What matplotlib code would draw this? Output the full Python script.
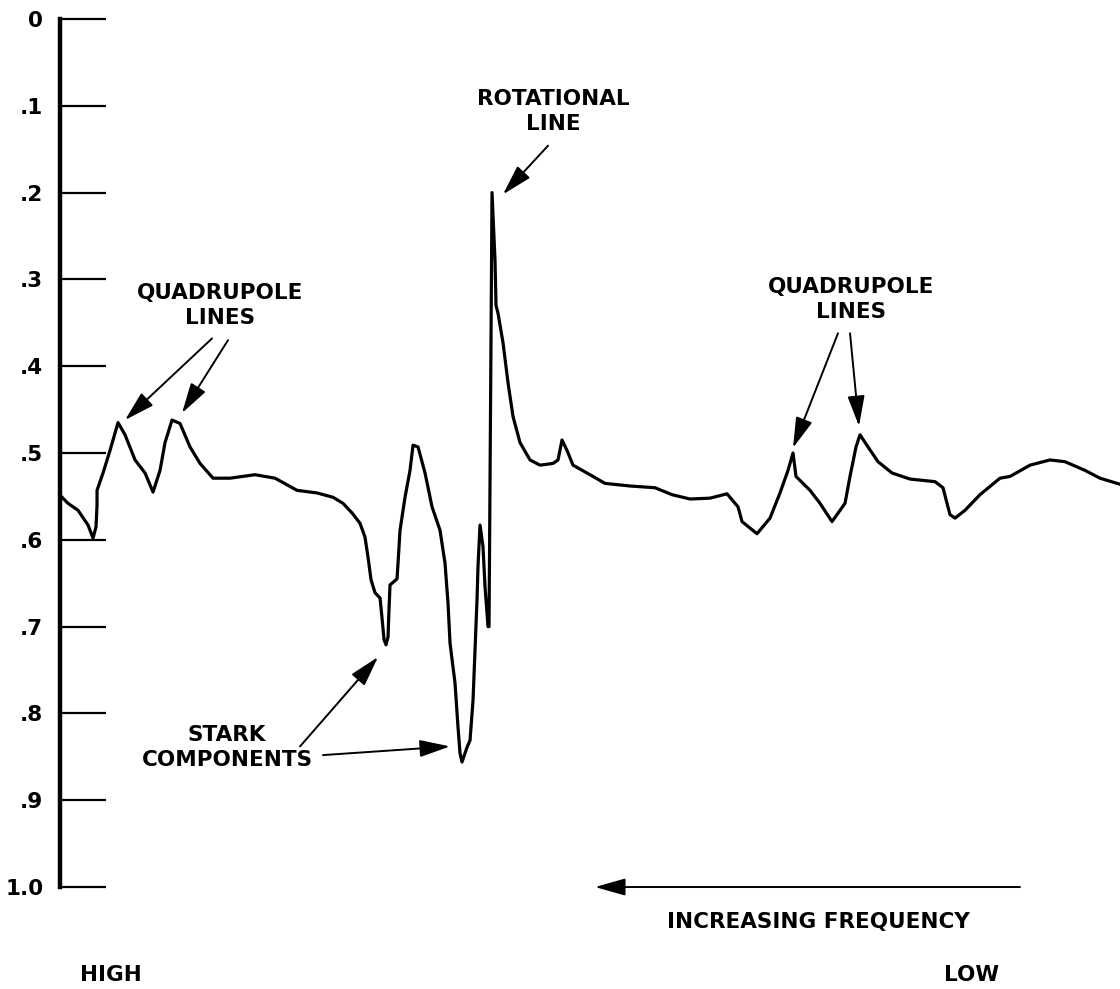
import numpy as np
import matplotlib
matplotlib.use("Agg")
import matplotlib.pyplot as plt

# trace position (arbitrary frequency units, high frequency on the left)
pos = [2, 8, 18, 28, 33, 36, 37, 37, 43, 50, 58, 65, 75, 85, 93, 100, 105, 112,
       120, 130, 140, 153, 170, 195, 215, 237, 257, 273, 283, 292, 300, 305, 308,
       311, 315, 320, 322, 324, 326, 328, 329, 330, 337, 338, 340, 345, 350, 353,
       358, 365, 372, 380, 385, 388, 390, 395, 398, 400, 402, 407, 410, 413, 415,
       417, 418, 420, 423, 425, 428, 429, 432, 435, 436, 438, 443, 448, 453, 460,
       470, 480, 493, 498, 502, 507, 513, 530, 545, 570, 595, 612, 630, 650, 667,
       678, 682, 697, 710, 720, 728, 733, 736, 750, 760, 772, 785, 790, 796, 800,
       808, 818, 832, 850, 875, 883, 887, 890, 895, 905, 920, 940, 950, 970, 990,
       1005, 1025, 1040, 1060]
# absorption signal
signal = [0.551, 0.558, 0.566, 0.583, 0.598, 0.585, 0.560, 0.543, 0.523, 0.497,
          0.465, 0.479, 0.508, 0.523, 0.545, 0.520, 0.488, 0.462, 0.466, 0.493,
          0.512, 0.529, 0.529, 0.525, 0.529, 0.543, 0.546, 0.551, 0.558, 0.569,
          0.581, 0.597, 0.620, 0.646, 0.661, 0.667, 0.690, 0.715, 0.721, 0.712,
          0.680, 0.652, 0.645, 0.627, 0.589, 0.551, 0.520, 0.491, 0.493, 0.523,
          0.562, 0.589, 0.627, 0.673, 0.719, 0.765, 0.816, 0.846, 0.856, 0.839,
          0.831, 0.785, 0.727, 0.669, 0.630, 0.583, 0.608, 0.654, 0.700, 0.700,
          0.200, 0.278, 0.330, 0.339, 0.373, 0.419, 0.458, 0.488, 0.508, 0.514,
          0.512, 0.508, 0.485, 0.497, 0.514, 0.525, 0.535, 0.538, 0.540, 0.548,
          0.553, 0.552, 0.547, 0.562, 0.579, 0.593, 0.575, 0.546, 0.520, 0.500,
          0.527, 0.543, 0.558, 0.579, 0.558, 0.527, 0.493, 0.479, 0.493, 0.510,
          0.523, 0.530, 0.533, 0.540, 0.558, 0.571, 0.575, 0.566, 0.548, 0.529,
          0.527, 0.514, 0.508, 0.510, 0.520, 0.529, 0.536]

yticks = [0, 0.1, 0.2, 0.3, 0.4, 0.5, 0.6, 0.7, 0.8, 0.9, 1.0]
ytick_labels = ["0", ".1", ".2", ".3", ".4", ".5", ".6", ".7", ".8", ".9", "1.0"]

FONT = dict(family=["DejaVu Sans"], weight="bold", fontsize=15.5)

fig = plt.figure(figsize=(11.2, 9.89), dpi=100)
ax = fig.add_axes([0.0536, 0.1031, 0.9464, 0.8777])

ax.plot(pos, signal, color="black", lw=2.3, solid_joinstyle="round")

ax.set_xlim(0, 1060)
ax.set_ylim(1.0, 0)
ax.set_xticks([])
ax.set_yticks(yticks)
ax.set_yticklabels(ytick_labels, **FONT)
ax.tick_params(axis="y", direction="in", length=33, width=1.6, pad=12)
for s in ["top", "right", "bottom"]:
    ax.spines[s].set_visible(False)
ax.spines["left"].set_linewidth(3.2)


def arrow(tail, tip):
    ax.annotate("", xy=tip, xytext=tail, annotation_clip=False,
                arrowprops=dict(arrowstyle="-|>,head_length=0.85,head_width=0.24",
                                mutation_scale=22, lw=1.4, color="black",
                                shrinkA=0, shrinkB=0))


# labels and arrows
ax.text(160, 0.33, "QUADRUPOLE\nLINES", ha="center", va="center",
        linespacing=1.3, **FONT)
arrow((152, 0.368), (65, 0.462))
arrow((168, 0.370), (122, 0.454))

ax.text(493, 0.107, "ROTATIONAL\nLINE", ha="center", va="center",
        linespacing=1.3, **FONT)
arrow((488, 0.146), (443, 0.202))

ax.text(791, 0.323, "QUADRUPOLE\nLINES", ha="center", va="center",
        linespacing=1.3, **FONT)
arrow((778, 0.362), (733, 0.494))
arrow((790, 0.362), (799, 0.469))

ax.text(167, 0.839, "STARK\nCOMPONENTS", ha="center", va="center",
        linespacing=1.3, **FONT)
arrow((240, 0.838), (318, 0.735))
arrow((263, 0.848), (390, 0.838))

arrow((960, 1.0), (535, 1.0))
ax.text(758, 1.040, "INCREASING FREQUENCY", ha="center", va="center",
        clip_on=False, **FONT)
ax.text(51, 1.101, "HIGH", ha="center", va="center", clip_on=False, **FONT)
ax.text(912, 1.101, "LOW", ha="center", va="center", clip_on=False, **FONT)

fig.savefig("out.png", dpi=100, facecolor="white")
